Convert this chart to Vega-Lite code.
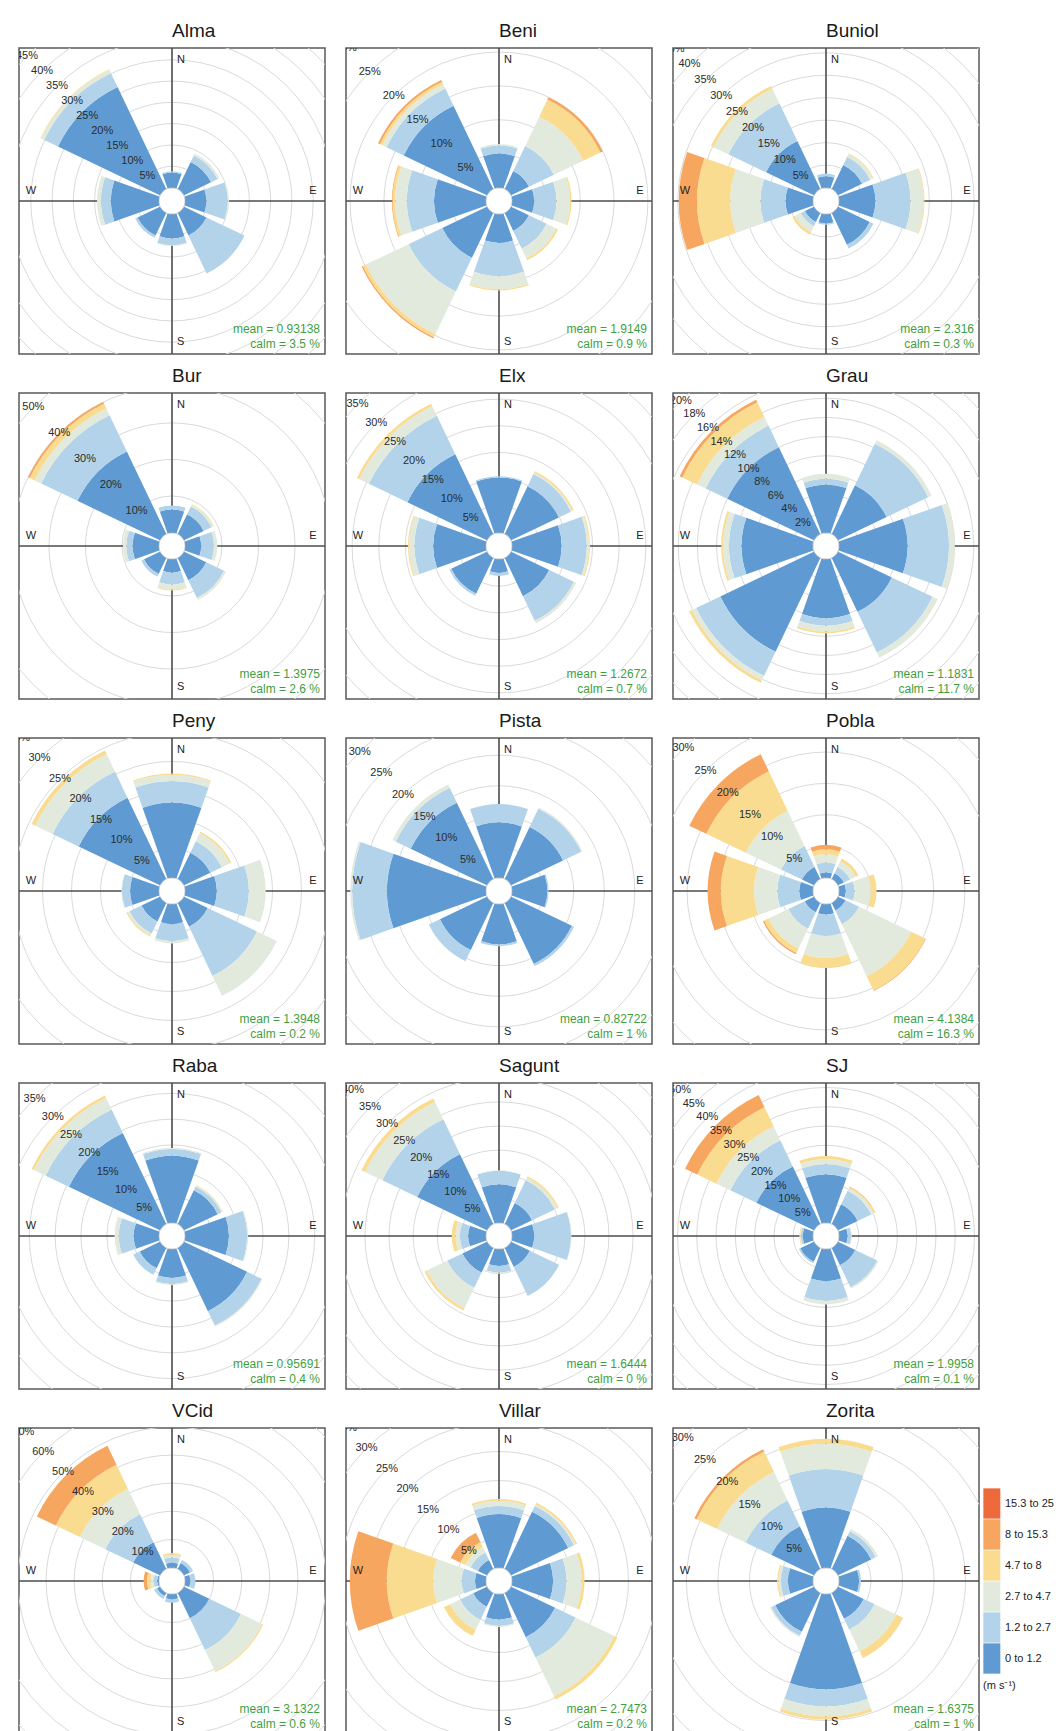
{
  "$schema": "https://vega.github.io/schema/vega-lite/v6.json",
  "background": "white",
  "padding": {"left": 18, "top": 21, "right": 0, "bottom": 0},
  "datasets": {
    "bins": [
      {"k": 0, "b": "0 to 1.2"}, {"k": 1, "b": "1.2 to 2.7"}, {"k": 2, "b": "2.7 to 4.7"},
      {"k": 3, "b": "4.7 to 8"}, {"k": 4, "b": "8 to 15.3"}, {"k": 5, "b": "15.3 to 25"}
    ]
  },
  "data": {"values": [
    {"s":"Alma","d":0,"k":0,"f":3.5},{"s":"Alma","d":0,"k":1,"f":0.3},
    {"s":"Alma","d":45,"k":0,"f":7},{"s":"Alma","d":45,"k":1,"f":1.7},{"s":"Alma","d":45,"k":2,"f":0.5},
    {"s":"Alma","d":90,"k":0,"f":4.9},{"s":"Alma","d":90,"k":1,"f":5},{"s":"Alma","d":90,"k":2,"f":0.3},
    {"s":"Alma","d":135,"k":0,"f":5.8},{"s":"Alma","d":135,"k":1,"f":9.9},
    {"s":"Alma","d":180,"k":0,"f":5.6},{"s":"Alma","d":180,"k":1,"f":1.6},{"s":"Alma","d":180,"k":2,"f":0.2},
    {"s":"Alma","d":225,"k":0,"f":5.8},{"s":"Alma","d":225,"k":1,"f":0.6},
    {"s":"Alma","d":270,"k":0,"f":11.2},{"s":"Alma","d":270,"k":1,"f":2.3},{"s":"Alma","d":270,"k":2,"f":0.9},
    {"s":"Alma","d":315,"k":0,"f":26.5},{"s":"Alma","d":315,"k":1,"f":3.6},{"s":"Alma","d":315,"k":2,"f":0.8},{"s":"Alma","d":315,"k":3,"f":0.2},

    {"s":"Beni","d":0,"k":0,"f":5},{"s":"Beni","d":0,"k":1,"f":1.2},{"s":"Beni","d":0,"k":2,"f":0.2},
    {"s":"Beni","d":45,"k":0,"f":2.9},{"s":"Beni","d":45,"k":1,"f":4.1},{"s":"Beni","d":45,"k":2,"f":4.8},{"s":"Beni","d":45,"k":3,"f":2.8},{"s":"Beni","d":45,"k":4,"f":0.4},
    {"s":"Beni","d":90,"k":0,"f":3.2},{"s":"Beni","d":90,"k":1,"f":3.3},{"s":"Beni","d":90,"k":2,"f":2},{"s":"Beni","d":90,"k":3,"f":0.2},
    {"s":"Beni","d":135,"k":0,"f":2.9},{"s":"Beni","d":135,"k":1,"f":2.9},{"s":"Beni","d":135,"k":2,"f":1.6},{"s":"Beni","d":135,"k":3,"f":0.3},
    {"s":"Beni","d":180,"k":0,"f":4.2},{"s":"Beni","d":180,"k":1,"f":4.9},{"s":"Beni","d":180,"k":2,"f":1.9},{"s":"Beni","d":180,"k":3,"f":0.2},
    {"s":"Beni","d":225,"k":0,"f":7.3},{"s":"Beni","d":225,"k":1,"f":5.5},{"s":"Beni","d":225,"k":2,"f":7},{"s":"Beni","d":225,"k":3,"f":0.5},{"s":"Beni","d":225,"k":4,"f":0.2},
    {"s":"Beni","d":270,"k":0,"f":7.6},{"s":"Beni","d":270,"k":1,"f":4},{"s":"Beni","d":270,"k":2,"f":1.7},{"s":"Beni","d":270,"k":3,"f":0.4},{"s":"Beni","d":270,"k":4,"f":0.1},
    {"s":"Beni","d":315,"k":0,"f":13.6},{"s":"Beni","d":315,"k":1,"f":2.8},{"s":"Beni","d":315,"k":2,"f":0.7},{"s":"Beni","d":315,"k":3,"f":0.4},{"s":"Beni","d":315,"k":4,"f":0.3},

    {"s":"Buniol","d":0,"k":0,"f":2.5},{"s":"Buniol","d":0,"k":1,"f":0.6},
    {"s":"Buniol","d":45,"k":0,"f":5.9},{"s":"Buniol","d":45,"k":1,"f":2},{"s":"Buniol","d":45,"k":2,"f":0.7},{"s":"Buniol","d":45,"k":3,"f":0.2},
    {"s":"Buniol","d":90,"k":0,"f":8},{"s":"Buniol","d":90,"k":1,"f":7.8},{"s":"Buniol","d":90,"k":2,"f":2.9},{"s":"Buniol","d":90,"k":3,"f":0.2},
    {"s":"Buniol","d":135,"k":0,"f":7.8},{"s":"Buniol","d":135,"k":1,"f":0.9},
    {"s":"Buniol","d":180,"k":0,"f":2},{"s":"Buniol","d":180,"k":1,"f":0.3},
    {"s":"Buniol","d":225,"k":0,"f":2.2},{"s":"Buniol","d":225,"k":1,"f":1},{"s":"Buniol","d":225,"k":2,"f":1.5},{"s":"Buniol","d":225,"k":3,"f":0.6},
    {"s":"Buniol","d":270,"k":0,"f":6},{"s":"Buniol","d":270,"k":1,"f":5.6},{"s":"Buniol","d":270,"k":2,"f":6.7},{"s":"Buniol","d":270,"k":3,"f":7.4},{"s":"Buniol","d":270,"k":4,"f":4.1},
    {"s":"Buniol","d":315,"k":0,"f":11.8},{"s":"Buniol","d":315,"k":1,"f":9.3},{"s":"Buniol","d":315,"k":2,"f":3.6},{"s":"Buniol","d":315,"k":3,"f":0.7},

    {"s":"Bur","d":0,"k":0,"f":6.3},{"s":"Bur","d":0,"k":1,"f":1.1},
    {"s":"Bur","d":45,"k":0,"f":5.9},{"s":"Bur","d":45,"k":1,"f":2.4},{"s":"Bur","d":45,"k":2,"f":0.5},{"s":"Bur","d":45,"k":3,"f":0.2},
    {"s":"Bur","d":90,"k":0,"f":4.3},{"s":"Bur","d":90,"k":1,"f":3.5},{"s":"Bur","d":90,"k":2,"f":0.9},
    {"s":"Bur","d":135,"k":0,"f":6.7},{"s":"Bur","d":135,"k":1,"f":5.4},{"s":"Bur","d":135,"k":2,"f":0.6},
    {"s":"Bur","d":180,"k":0,"f":3.6},{"s":"Bur","d":180,"k":1,"f":3.2},{"s":"Bur","d":180,"k":2,"f":1.4},{"s":"Bur","d":180,"k":3,"f":0.3},
    {"s":"Bur","d":225,"k":0,"f":4.8},{"s":"Bur","d":225,"k":1,"f":0.8},
    {"s":"Bur","d":270,"k":0,"f":7.1},{"s":"Bur","d":270,"k":1,"f":1.7},{"s":"Bur","d":270,"k":2,"f":0.9},
    {"s":"Bur","d":315,"k":0,"f":25},{"s":"Bur","d":315,"k":1,"f":11},{"s":"Bur","d":315,"k":2,"f":2},{"s":"Bur","d":315,"k":3,"f":1.5},{"s":"Bur","d":315,"k":4,"f":0.5},

    {"s":"Elx","d":0,"k":0,"f":10.3},{"s":"Elx","d":0,"k":1,"f":0.2},
    {"s":"Elx","d":45,"k":0,"f":9.9},{"s":"Elx","d":45,"k":1,"f":2.5},{"s":"Elx","d":45,"k":2,"f":0.3},{"s":"Elx","d":45,"k":3,"f":0.3},
    {"s":"Elx","d":90,"k":0,"f":9.2},{"s":"Elx","d":90,"k":1,"f":4.7},{"s":"Elx","d":90,"k":2,"f":0.4},{"s":"Elx","d":90,"k":3,"f":0.2},
    {"s":"Elx","d":135,"k":0,"f":7.9},{"s":"Elx","d":135,"k":1,"f":5.1},{"s":"Elx","d":135,"k":2,"f":0.5},
    {"s":"Elx","d":180,"k":0,"f":2.5},{"s":"Elx","d":180,"k":1,"f":0.6},
    {"s":"Elx","d":225,"k":0,"f":7.4},{"s":"Elx","d":225,"k":1,"f":0.4},
    {"s":"Elx","d":270,"k":0,"f":9.8},{"s":"Elx","d":270,"k":1,"f":3.5},{"s":"Elx","d":270,"k":2,"f":1},{"s":"Elx","d":270,"k":3,"f":0.2},
    {"s":"Elx","d":315,"k":0,"f":16.5},{"s":"Elx","d":315,"k":1,"f":8},{"s":"Elx","d":315,"k":2,"f":2},{"s":"Elx","d":315,"k":3,"f":0.5},

    {"s":"Grau","d":0,"k":0,"f":5},{"s":"Grau","d":0,"k":1,"f":0.6},{"s":"Grau","d":0,"k":2,"f":0.5},
    {"s":"Grau","d":45,"k":0,"f":5.6},{"s":"Grau","d":45,"k":1,"f":4.8},{"s":"Grau","d":45,"k":2,"f":0.4},
    {"s":"Grau","d":90,"k":0,"f":7.1},{"s":"Grau","d":90,"k":1,"f":4.3},{"s":"Grau","d":90,"k":2,"f":0.6},
    {"s":"Grau","d":135,"k":0,"f":6.2},{"s":"Grau","d":135,"k":1,"f":4.7},{"s":"Grau","d":135,"k":2,"f":0.6},
    {"s":"Grau","d":180,"k":0,"f":6.1},{"s":"Grau","d":180,"k":1,"f":0.8},{"s":"Grau","d":180,"k":2,"f":0.6},{"s":"Grau","d":180,"k":3,"f":0.2},
    {"s":"Grau","d":225,"k":0,"f":10.8},{"s":"Grau","d":225,"k":1,"f":2.8},{"s":"Grau","d":225,"k":2,"f":0.5},{"s":"Grau","d":225,"k":3,"f":0.3},
    {"s":"Grau","d":270,"k":0,"f":7.4},{"s":"Grau","d":270,"k":1,"f":1.3},{"s":"Grau","d":270,"k":2,"f":0.6},{"s":"Grau","d":270,"k":3,"f":0.2},
    {"s":"Grau","d":315,"k":0,"f":10},{"s":"Grau","d":315,"k":1,"f":2.5},{"s":"Grau","d":315,"k":2,"f":1},{"s":"Grau","d":315,"k":3,"f":1.7},{"s":"Grau","d":315,"k":4,"f":0.3},

    {"s":"Peny","d":0,"k":0,"f":12.9},{"s":"Peny","d":0,"k":1,"f":3.7},{"s":"Peny","d":0,"k":2,"f":1.1},{"s":"Peny","d":0,"k":3,"f":0.2},
    {"s":"Peny","d":45,"k":0,"f":5},{"s":"Peny","d":45,"k":1,"f":2.2},{"s":"Peny","d":45,"k":2,"f":1.5},{"s":"Peny","d":45,"k":3,"f":0.3},
    {"s":"Peny","d":90,"k":0,"f":5.4},{"s":"Peny","d":90,"k":1,"f":5.5},{"s":"Peny","d":90,"k":2,"f":2.9},
    {"s":"Peny","d":135,"k":0,"f":4.5},{"s":"Peny","d":135,"k":1,"f":9.4},{"s":"Peny","d":135,"k":2,"f":3.8},
    {"s":"Peny","d":180,"k":0,"f":3.4},{"s":"Peny","d":180,"k":1,"f":2.9},{"s":"Peny","d":180,"k":2,"f":0.4},
    {"s":"Peny","d":225,"k":0,"f":3.5},{"s":"Peny","d":225,"k":1,"f":2.3},{"s":"Peny","d":225,"k":2,"f":0.4},{"s":"Peny","d":225,"k":3,"f":0.2},
    {"s":"Peny","d":270,"k":0,"f":4.9},{"s":"Peny","d":270,"k":1,"f":1.4},{"s":"Peny","d":270,"k":2,"f":0.1},
    {"s":"Peny","d":315,"k":0,"f":15.5},{"s":"Peny","d":315,"k":1,"f":5},{"s":"Peny","d":315,"k":2,"f":3.3},{"s":"Peny","d":315,"k":3,"f":0.7},

    {"s":"Pista","d":0,"k":0,"f":9},{"s":"Pista","d":0,"k":1,"f":3},
    {"s":"Pista","d":45,"k":0,"f":9.4},{"s":"Pista","d":45,"k":1,"f":3.3},{"s":"Pista","d":45,"k":2,"f":0.2},
    {"s":"Pista","d":90,"k":0,"f":5.7},{"s":"Pista","d":90,"k":1,"f":0.2},
    {"s":"Pista","d":135,"k":0,"f":11},{"s":"Pista","d":135,"k":1,"f":0.4},
    {"s":"Pista","d":180,"k":0,"f":6.5},{"s":"Pista","d":180,"k":1,"f":0.3},
    {"s":"Pista","d":225,"k":0,"f":8.5},{"s":"Pista","d":225,"k":1,"f":2},
    {"s":"Pista","d":270,"k":0,"f":16.1},{"s":"Pista","d":270,"k":1,"f":5.7},{"s":"Pista","d":270,"k":2,"f":0.3},
    {"s":"Pista","d":315,"k":0,"f":13.8},{"s":"Pista","d":315,"k":1,"f":2.7},{"s":"Pista","d":315,"k":2,"f":0.6},

    {"s":"Pobla","d":0,"k":0,"f":0.8},{"s":"Pobla","d":0,"k":1,"f":1.6},{"s":"Pobla","d":0,"k":2,"f":1.3},{"s":"Pobla","d":0,"k":3,"f":0.8},{"s":"Pobla","d":0,"k":4,"f":0.7},
    {"s":"Pobla","d":45,"k":0,"f":1},{"s":"Pobla","d":45,"k":1,"f":1.1},{"s":"Pobla","d":45,"k":2,"f":1},{"s":"Pobla","d":45,"k":3,"f":0.5},
    {"s":"Pobla","d":90,"k":0,"f":1},{"s":"Pobla","d":90,"k":1,"f":1.4},{"s":"Pobla","d":90,"k":2,"f":2.6},{"s":"Pobla","d":90,"k":3,"f":0.9},
    {"s":"Pobla","d":135,"k":0,"f":1.3},{"s":"Pobla","d":135,"k":1,"f":2.4},{"s":"Pobla","d":135,"k":2,"f":9.2},{"s":"Pobla","d":135,"k":3,"f":2.5},{"s":"Pobla","d":135,"k":4,"f":0.1},
    {"s":"Pobla","d":180,"k":0,"f":1.6},{"s":"Pobla","d":180,"k":1,"f":3.4},{"s":"Pobla","d":180,"k":2,"f":3.5},{"s":"Pobla","d":180,"k":3,"f":1.6},
    {"s":"Pobla","d":225,"k":0,"f":1.6},{"s":"Pobla","d":225,"k":1,"f":2.9},{"s":"Pobla","d":225,"k":2,"f":3.5},{"s":"Pobla","d":225,"k":3,"f":0.8},{"s":"Pobla","d":225,"k":4,"f":0.2},
    {"s":"Pobla","d":270,"k":0,"f":2.1},{"s":"Pobla","d":270,"k":1,"f":3.5},{"s":"Pobla","d":270,"k":2,"f":3.7},{"s":"Pobla","d":270,"k":3,"f":5.3},{"s":"Pobla","d":270,"k":4,"f":2.1},
    {"s":"Pobla","d":315,"k":0,"f":2.1},{"s":"Pobla","d":315,"k":1,"f":3.7},{"s":"Pobla","d":315,"k":2,"f":6.2},{"s":"Pobla","d":315,"k":3,"f":7},{"s":"Pobla","d":315,"k":4,"f":3},

    {"s":"Raba","d":0,"k":0,"f":12.9},{"s":"Raba","d":0,"k":1,"f":1.3},{"s":"Raba","d":0,"k":2,"f":0.2},
    {"s":"Raba","d":45,"k":0,"f":7.2},{"s":"Raba","d":45,"k":1,"f":0.8},{"s":"Raba","d":45,"k":2,"f":0.2},{"s":"Raba","d":45,"k":3,"f":0.1},
    {"s":"Raba","d":90,"k":0,"f":8.4},{"s":"Raba","d":90,"k":1,"f":3.5},{"s":"Raba","d":90,"k":2,"f":0.2},
    {"s":"Raba","d":135,"k":0,"f":13.5},{"s":"Raba","d":135,"k":1,"f":3.1},{"s":"Raba","d":135,"k":2,"f":0.2},
    {"s":"Raba","d":180,"k":0,"f":5.5},{"s":"Raba","d":180,"k":1,"f":1.2},{"s":"Raba","d":180,"k":2,"f":0.2},
    {"s":"Raba","d":225,"k":0,"f":4.3},{"s":"Raba","d":225,"k":1,"f":1.4},
    {"s":"Raba","d":270,"k":0,"f":4.8},{"s":"Raba","d":270,"k":1,"f":2.9},{"s":"Raba","d":270,"k":2,"f":0.8},
    {"s":"Raba","d":315,"k":0,"f":19.5},{"s":"Raba","d":315,"k":1,"f":5},{"s":"Raba","d":315,"k":2,"f":2.5},{"s":"Raba","d":315,"k":3,"f":0.5},

    {"s":"Sagunt","d":0,"k":0,"f":7.9},{"s":"Sagunt","d":0,"k":1,"f":2.8},{"s":"Sagunt","d":0,"k":2,"f":0.1},
    {"s":"Sagunt","d":45,"k":0,"f":4.8},{"s":"Sagunt","d":45,"k":1,"f":5.2},{"s":"Sagunt","d":45,"k":2,"f":0.6},{"s":"Sagunt","d":45,"k":3,"f":0.3},
    {"s":"Sagunt","d":90,"k":0,"f":4.5},{"s":"Sagunt","d":90,"k":1,"f":7.6},{"s":"Sagunt","d":90,"k":2,"f":0.1},
    {"s":"Sagunt","d":135,"k":0,"f":4.3},{"s":"Sagunt","d":135,"k":1,"f":6.7},
    {"s":"Sagunt","d":180,"k":0,"f":3.4},{"s":"Sagunt","d":180,"k":1,"f":1.4},{"s":"Sagunt","d":180,"k":2,"f":0.2},
    {"s":"Sagunt","d":225,"k":0,"f":5.6},{"s":"Sagunt","d":225,"k":1,"f":3.5},{"s":"Sagunt","d":225,"k":2,"f":4.7},{"s":"Sagunt","d":225,"k":3,"f":0.5},
    {"s":"Sagunt","d":270,"k":0,"f":3.6},{"s":"Sagunt","d":270,"k":1,"f":1.7},{"s":"Sagunt","d":270,"k":2,"f":0.9},{"s":"Sagunt","d":270,"k":3,"f":0.8},
    {"s":"Sagunt","d":315,"k":0,"f":16},{"s":"Sagunt","d":315,"k":1,"f":8},{"s":"Sagunt","d":315,"k":2,"f":4},{"s":"Sagunt","d":315,"k":3,"f":0.8},

    {"s":"SJ","d":0,"k":0,"f":12.5},{"s":"SJ","d":0,"k":1,"f":2.6},{"s":"SJ","d":0,"k":2,"f":1.3},{"s":"SJ","d":0,"k":3,"f":0.8},
    {"s":"SJ","d":45,"k":0,"f":5.6},{"s":"SJ","d":45,"k":1,"f":3.9},{"s":"SJ","d":45,"k":2,"f":0.7},{"s":"SJ","d":45,"k":3,"f":0.4},{"s":"SJ","d":45,"k":4,"f":0.1},
    {"s":"SJ","d":90,"k":0,"f":2.1},{"s":"SJ","d":90,"k":1,"f":0.9},{"s":"SJ","d":90,"k":2,"f":0.2},
    {"s":"SJ","d":135,"k":0,"f":4.9},{"s":"SJ","d":135,"k":1,"f":6.3},{"s":"SJ","d":135,"k":2,"f":0.4},
    {"s":"SJ","d":180,"k":0,"f":8.2},{"s":"SJ","d":180,"k":1,"f":5.1},{"s":"SJ","d":180,"k":2,"f":0.9},
    {"s":"SJ","d":225,"k":0,"f":3.9},{"s":"SJ","d":225,"k":1,"f":0.4},
    {"s":"SJ","d":270,"k":0,"f":2.5},{"s":"SJ","d":270,"k":1,"f":0.5},{"s":"SJ","d":270,"k":2,"f":0.2},{"s":"SJ","d":270,"k":3,"f":0.2},
    {"s":"SJ","d":315,"k":0,"f":16.5},{"s":"SJ","d":315,"k":1,"f":7.5},{"s":"SJ","d":315,"k":2,"f":4},{"s":"SJ","d":315,"k":3,"f":5.5},{"s":"SJ","d":315,"k":4,"f":3.5},

    {"s":"VCid","d":0,"k":0,"f":1.7},{"s":"VCid","d":0,"k":1,"f":1.8},{"s":"VCid","d":0,"k":2,"f":1},{"s":"VCid","d":0,"k":3,"f":0.6},
    {"s":"VCid","d":45,"k":0,"f":2.3},{"s":"VCid","d":45,"k":1,"f":1.2},
    {"s":"VCid","d":90,"k":0,"f":1.7},{"s":"VCid","d":90,"k":1,"f":1.8},
    {"s":"VCid","d":135,"k":0,"f":9.9},{"s":"VCid","d":135,"k":1,"f":12.5},{"s":"VCid","d":135,"k":2,"f":8.3},{"s":"VCid","d":135,"k":3,"f":0.5},
    {"s":"VCid","d":180,"k":0,"f":1.7},{"s":"VCid","d":180,"k":1,"f":1.2},
    {"s":"VCid","d":225,"k":0,"f":1.1},{"s":"VCid","d":225,"k":1,"f":1.2},
    {"s":"VCid","d":270,"k":0,"f":0.5},{"s":"VCid","d":270,"k":1,"f":1.2},{"s":"VCid","d":270,"k":2,"f":1.2},{"s":"VCid","d":270,"k":3,"f":1.2},{"s":"VCid","d":270,"k":4,"f":1.2},
    {"s":"VCid","d":315,"k":0,"f":10.5},{"s":"VCid","d":315,"k":1,"f":11},{"s":"VCid","d":315,"k":2,"f":10},{"s":"VCid","d":315,"k":3,"f":9.5},{"s":"VCid","d":315,"k":4,"f":7.5},

    {"s":"Villar","d":0,"k":0,"f":9.2},{"s":"Villar","d":0,"k":1,"f":1.4},{"s":"Villar","d":0,"k":2,"f":0.9},{"s":"Villar","d":0,"k":3,"f":0.3},
    {"s":"Villar","d":45,"k":0,"f":10.9},{"s":"Villar","d":45,"k":1,"f":1.1},{"s":"Villar","d":45,"k":2,"f":0.3},{"s":"Villar","d":45,"k":3,"f":0.3},
    {"s":"Villar","d":90,"k":0,"f":7},{"s":"Villar","d":90,"k":1,"f":2.3},{"s":"Villar","d":90,"k":2,"f":2.6},{"s":"Villar","d":90,"k":3,"f":0.5},
    {"s":"Villar","d":135,"k":0,"f":8.4},{"s":"Villar","d":135,"k":1,"f":3.9},{"s":"Villar","d":135,"k":2,"f":7.4},{"s":"Villar","d":135,"k":3,"f":0.6},
    {"s":"Villar","d":180,"k":0,"f":4.3},{"s":"Villar","d":180,"k":1,"f":1.1},{"s":"Villar","d":180,"k":2,"f":0.2},
    {"s":"Villar","d":225,"k":0,"f":2.6},{"s":"Villar","d":225,"k":1,"f":2.5},{"s":"Villar","d":225,"k":2,"f":1.9},{"s":"Villar","d":225,"k":3,"f":1.2},
    {"s":"Villar","d":270,"k":0,"f":1.8},{"s":"Villar","d":270,"k":1,"f":2.3},{"s":"Villar","d":270,"k":2,"f":4.9},{"s":"Villar","d":270,"k":3,"f":8},{"s":"Villar","d":270,"k":4,"f":6.4},
    {"s":"Villar","d":315,"k":0,"f":1.7},{"s":"Villar","d":315,"k":1,"f":1.4},{"s":"Villar","d":315,"k":2,"f":1},{"s":"Villar","d":315,"k":3,"f":1},{"s":"Villar","d":315,"k":4,"f":1.8},

    {"s":"Zorita","d":0,"k":0,"f":9.5},{"s":"Zorita","d":0,"k":1,"f":6.1},{"s":"Zorita","d":0,"k":2,"f":4},{"s":"Zorita","d":0,"k":3,"f":0.8},
    {"s":"Zorita","d":45,"k":0,"f":5.8},{"s":"Zorita","d":45,"k":1,"f":0.8},{"s":"Zorita","d":45,"k":2,"f":0.4},
    {"s":"Zorita","d":90,"k":0,"f":3.1},{"s":"Zorita","d":90,"k":1,"f":0.3},
    {"s":"Zorita","d":135,"k":0,"f":4.5},{"s":"Zorita","d":135,"k":1,"f":1.9},{"s":"Zorita","d":135,"k":2,"f":3.8},{"s":"Zorita","d":135,"k":3,"f":1.2},
    {"s":"Zorita","d":180,"k":0,"f":15},{"s":"Zorita","d":180,"k":1,"f":2.7},{"s":"Zorita","d":180,"k":2,"f":1.6},{"s":"Zorita","d":180,"k":3,"f":0.5},
    {"s":"Zorita","d":225,"k":0,"f":6.8},{"s":"Zorita","d":225,"k":1,"f":0.7},{"s":"Zorita","d":225,"k":2,"f":0.2},
    {"s":"Zorita","d":270,"k":0,"f":3.9},{"s":"Zorita","d":270,"k":1,"f":1.1},{"s":"Zorita","d":270,"k":2,"f":0.4},{"s":"Zorita","d":270,"k":3,"f":0.2},
    {"s":"Zorita","d":315,"k":0,"f":7.5},{"s":"Zorita","d":315,"k":1,"f":4.5},{"s":"Zorita","d":315,"k":2,"f":5},{"s":"Zorita","d":315,"k":3,"f":3.6},{"s":"Zorita","d":315,"k":4,"f":0.4},

    {"s":"Alma","g":5},{"s":"Alma","g":10},{"s":"Alma","g":15},{"s":"Alma","g":20},{"s":"Alma","g":25},{"s":"Alma","g":30},{"s":"Alma","g":35},{"s":"Alma","g":40},{"s":"Alma","g":45},{"s":"Alma","g":50},
    {"s":"Beni","g":5},{"s":"Beni","g":10},{"s":"Beni","g":15},{"s":"Beni","g":20},{"s":"Beni","g":25},{"s":"Beni","g":30},
    {"s":"Buniol","g":5},{"s":"Buniol","g":10},{"s":"Buniol","g":15},{"s":"Buniol","g":20},{"s":"Buniol","g":25},{"s":"Buniol","g":30},{"s":"Buniol","g":35},{"s":"Buniol","g":40},{"s":"Buniol","g":45},{"s":"Buniol","g":50},
    {"s":"Bur","g":10},{"s":"Bur","g":20},{"s":"Bur","g":30},{"s":"Bur","g":40},{"s":"Bur","g":50},{"s":"Bur","g":60},
    {"s":"Elx","g":5},{"s":"Elx","g":10},{"s":"Elx","g":15},{"s":"Elx","g":20},{"s":"Elx","g":25},{"s":"Elx","g":30},{"s":"Elx","g":35},{"s":"Elx","g":40},
    {"s":"Grau","g":2},{"s":"Grau","g":4},{"s":"Grau","g":6},{"s":"Grau","g":8},{"s":"Grau","g":10},{"s":"Grau","g":12},{"s":"Grau","g":14},{"s":"Grau","g":16},{"s":"Grau","g":18},{"s":"Grau","g":20},{"s":"Grau","g":22},
    {"s":"Peny","g":5},{"s":"Peny","g":10},{"s":"Peny","g":15},{"s":"Peny","g":20},{"s":"Peny","g":25},{"s":"Peny","g":30},{"s":"Peny","g":35},
    {"s":"Pista","g":5},{"s":"Pista","g":10},{"s":"Pista","g":15},{"s":"Pista","g":20},{"s":"Pista","g":25},{"s":"Pista","g":30},{"s":"Pista","g":35},
    {"s":"Pobla","g":5},{"s":"Pobla","g":10},{"s":"Pobla","g":15},{"s":"Pobla","g":20},{"s":"Pobla","g":25},{"s":"Pobla","g":30},{"s":"Pobla","g":35},
    {"s":"Raba","g":5},{"s":"Raba","g":10},{"s":"Raba","g":15},{"s":"Raba","g":20},{"s":"Raba","g":25},{"s":"Raba","g":30},{"s":"Raba","g":35},{"s":"Raba","g":40},
    {"s":"Sagunt","g":5},{"s":"Sagunt","g":10},{"s":"Sagunt","g":15},{"s":"Sagunt","g":20},{"s":"Sagunt","g":25},{"s":"Sagunt","g":30},{"s":"Sagunt","g":35},{"s":"Sagunt","g":40},{"s":"Sagunt","g":45},
    {"s":"SJ","g":5},{"s":"SJ","g":10},{"s":"SJ","g":15},{"s":"SJ","g":20},{"s":"SJ","g":25},{"s":"SJ","g":30},{"s":"SJ","g":35},{"s":"SJ","g":40},{"s":"SJ","g":45},{"s":"SJ","g":50},{"s":"SJ","g":55},
    {"s":"VCid","g":10},{"s":"VCid","g":20},{"s":"VCid","g":30},{"s":"VCid","g":40},{"s":"VCid","g":50},{"s":"VCid","g":60},{"s":"VCid","g":70},{"s":"VCid","g":80},
    {"s":"Villar","g":5},{"s":"Villar","g":10},{"s":"Villar","g":15},{"s":"Villar","g":20},{"s":"Villar","g":25},{"s":"Villar","g":30},{"s":"Villar","g":35},
    {"s":"Zorita","g":5},{"s":"Zorita","g":10},{"s":"Zorita","g":15},{"s":"Zorita","g":20},{"s":"Zorita","g":25},{"s":"Zorita","g":30},{"s":"Zorita","g":35},

    {"s":"Alma","d":0,"e":57.9,"n":"N"},{"s":"Alma","d":90,"e":57.9,"n":"E"},{"s":"Alma","d":180,"e":57.9,"n":"S"},{"s":"Alma","d":270,"e":57.9,"n":"W"},
    {"s":"Beni","d":0,"e":36.4,"n":"N"},{"s":"Beni","d":90,"e":36.4,"n":"E"},{"s":"Beni","d":180,"e":36.4,"n":"S"},{"s":"Beni","d":270,"e":36.4,"n":"W"},
    {"s":"Buniol","d":0,"e":54.9,"n":"N"},{"s":"Buniol","d":90,"e":54.9,"n":"E"},{"s":"Buniol","d":180,"e":54.9,"n":"S"},{"s":"Buniol","d":270,"e":54.9,"n":"W"},
    {"s":"Bur","d":0,"e":67.5,"n":"N"},{"s":"Bur","d":90,"e":67.5,"n":"E"},{"s":"Bur","d":180,"e":67.5,"n":"S"},{"s":"Bur","d":270,"e":67.5,"n":"W"},
    {"s":"Elx","d":0,"e":46.2,"n":"N"},{"s":"Elx","d":90,"e":46.2,"n":"E"},{"s":"Elx","d":180,"e":46.2,"n":"S"},{"s":"Elx","d":270,"e":46.2,"n":"W"},
    {"s":"Grau","d":0,"e":25.7,"n":"N"},{"s":"Grau","d":90,"e":25.7,"n":"E"},{"s":"Grau","d":180,"e":25.7,"n":"S"},{"s":"Grau","d":270,"e":25.7,"n":"W"},
    {"s":"Peny","d":0,"e":42.5,"n":"N"},{"s":"Peny","d":90,"e":42.5,"n":"E"},{"s":"Peny","d":180,"e":42.5,"n":"S"},{"s":"Peny","d":270,"e":42.5,"n":"W"},
    {"s":"Pista","d":0,"e":40.3,"n":"N"},{"s":"Pista","d":90,"e":40.3,"n":"E"},{"s":"Pista","d":180,"e":40.3,"n":"S"},{"s":"Pista","d":270,"e":40.3,"n":"W"},
    {"s":"Pobla","d":0,"e":39.3,"n":"N"},{"s":"Pobla","d":90,"e":39.3,"n":"E"},{"s":"Pobla","d":180,"e":39.3,"n":"S"},{"s":"Pobla","d":270,"e":39.3,"n":"W"},
    {"s":"Raba","d":0,"e":47.7,"n":"N"},{"s":"Raba","d":90,"e":47.7,"n":"E"},{"s":"Raba","d":180,"e":47.7,"n":"S"},{"s":"Raba","d":270,"e":47.7,"n":"W"},
    {"s":"Sagunt","d":0,"e":51.1,"n":"N"},{"s":"Sagunt","d":90,"e":51.1,"n":"E"},{"s":"Sagunt","d":180,"e":51.1,"n":"S"},{"s":"Sagunt","d":270,"e":51.1,"n":"W"},
    {"s":"SJ","d":0,"e":63.9,"n":"N"},{"s":"SJ","d":90,"e":63.9,"n":"E"},{"s":"SJ","d":180,"e":63.9,"n":"S"},{"s":"SJ","d":270,"e":63.9,"n":"W"},
    {"s":"VCid","d":0,"e":87.7,"n":"N"},{"s":"VCid","d":90,"e":87.7,"n":"E"},{"s":"VCid","d":180,"e":87.7,"n":"S"},{"s":"VCid","d":270,"e":87.7,"n":"W"},
    {"s":"Villar","d":0,"e":42.5,"n":"N"},{"s":"Villar","d":90,"e":42.5,"n":"E"},{"s":"Villar","d":180,"e":42.5,"n":"S"},{"s":"Villar","d":270,"e":42.5,"n":"W"},
    {"s":"Zorita","d":0,"e":39.1,"n":"N"},{"s":"Zorita","d":90,"e":39.1,"n":"E"},{"s":"Zorita","d":180,"e":39.1,"n":"S"},{"s":"Zorita","d":270,"e":39.1,"n":"W"},

    {"s":"Alma","m":"mean = 0.93138\ncalm = 3.5 %"},
    {"s":"Beni","m":"mean = 1.9149\ncalm = 0.9 %"},
    {"s":"Buniol","m":"mean = 2.316\ncalm = 0.3 %"},
    {"s":"Bur","m":"mean = 1.3975\ncalm = 2.6 %"},
    {"s":"Elx","m":"mean = 1.2672\ncalm = 0.7 %"},
    {"s":"Grau","m":"mean = 1.1831\ncalm = 11.7 %"},
    {"s":"Peny","m":"mean = 1.3948\ncalm = 0.2 %"},
    {"s":"Pista","m":"mean = 0.82722\ncalm = 1 %"},
    {"s":"Pobla","m":"mean = 4.1384\ncalm = 16.3 %"},
    {"s":"Raba","m":"mean = 0.95691\ncalm = 0.4 %"},
    {"s":"Sagunt","m":"mean = 1.6444\ncalm = 0 %"},
    {"s":"SJ","m":"mean = 1.9958\ncalm = 0.1 %"},
    {"s":"VCid","m":"mean = 3.1322\ncalm = 0.6 %"},
    {"s":"Villar","m":"mean = 2.7473\ncalm = 0.2 %"},
    {"s":"Zorita","m":"mean = 1.6375\ncalm = 1 %"}
  ]},
  "transform": [
    {"lookup": "k", "from": {"data": {"name": "bins"}, "key": "k", "fields": ["b"]}}
  ],
  "facet": {
    "field": "s",
    "type": "nominal",
    "sort": ["Alma", "Beni", "Buniol", "Bur", "Elx", "Grau", "Peny", "Pista", "Pobla", "Raba", "Sagunt", "SJ", "VCid", "Villar", "Zorita"],
    "header": {
      "title": null,
      "labelExpr": "'\u200b\u2002' + datum.label",
      "labelAnchor": "middle",
      "labelAlign": "left",
      "labelFont": "Liberation Sans",
      "labelFontSize": 19,
      "labelColor": "#1a1a1a",
      "labelPadding": 7
    }
  },
  "columns": 3,
  "spacing": {"row": 11, "column": 19},
  "resolve": {"scale": {"radius": "independent"}},
  "spec": {
    "width": 306,
    "height": 306,
    "view": {"stroke": "#595959", "strokeWidth": 1.5},
    "layer": [
      {
        "transform": [{"filter": "isValid(datum.g)"}],
        "mark": {"type": "arc", "theta": 0, "theta2": 6.2832, "fillOpacity": 0, "stroke": "#dadada", "strokeWidth": 1, "clip": true},
        "encoding": {
          "radius": {"field": "g", "type": "quantitative", "stack": null, "scale": {"type": "linear", "zero": true, "nice": false, "range": [13.5, 260]}}
        }
      },
      {
        "transform": [{"filter": "isValid(datum.e)"}],
        "mark": {"type": "arc", "fillOpacity": 0, "stroke": "#4d4d4d", "strokeWidth": 1.6, "clip": true},
        "encoding": {
          "theta": {"field": "d", "type": "quantitative", "stack": null, "scale": {"domain": [0, 360], "range": [0, 6.283185]}},
          "theta2": {"field": "d"},
          "radius": {"field": "e", "type": "quantitative", "stack": null}
        }
      },
      {
        "transform": [
          {"filter": "isValid(datum.f)"},
          {"stack": "f", "groupby": ["s", "d"], "sort": [{"field": "k", "order": "ascending"}], "as": ["c0", "c1"]}
        ],
        "mark": {"type": "arc", "thetaOffset": -0.34, "theta2Offset": 0.34, "clip": true},
        "encoding": {
          "theta": {"field": "d", "type": "quantitative", "stack": null, "scale": {"domain": [0, 360], "range": [0, 6.283185]}},
          "theta2": {"field": "d"},
          "radius": {"field": "c1", "type": "quantitative", "stack": null},
          "radius2": {"field": "c0"},
          "color": {
            "field": "b",
            "type": "nominal",
            "scale": {
              "domain": ["15.3 to 25", "8 to 15.3", "4.7 to 8", "2.7 to 4.7", "1.2 to 2.7", "0 to 1.2"],
              "range": ["#ee6a3c", "#f6a65e", "#fadc91", "#e2eade", "#b2d3ea", "#5f9bd2"]
            },
            "legend": {
              "title": "(m s⁻¹)",
              "orient": "none",
              "legendX": 964,
              "legendY": 1440,
              "symbolType": "M-1,-1H0.12V1H-1Z",
              "symbolSize": 918,
              "symbolStrokeWidth": 0,
              "symbolOpacity": 1,
              "rowPadding": 0,
              "labelOffset": -9,
              "labelFont": "Liberation Sans",
              "labelFontSize": 11,
              "labelColor": "#222",
              "titleOrient": "bottom",
              "titleFont": "Liberation Sans",
              "titleFontSize": 11,
              "titleFontWeight": "normal",
              "titleColor": "#222",
              "titlePadding": 6,
              "padding": 0
            }
          }
        }
      },
      {
        "transform": [{"filter": "isValid(datum.g)"}, {"calculate": "datum.g + '%'", "as": "gl"}],
        "mark": {"type": "text", "theta": 5.497787, "font": "Liberation Sans", "fontSize": 11, "fill": "#2b2b2b", "clip": true},
        "encoding": {
          "radius": {"field": "g", "type": "quantitative", "stack": null},
          "text": {"field": "gl"}
        }
      },
      {
        "transform": [{"filter": "isValid(datum.e) && (datum.d == 0 || datum.d == 180)"}],
        "mark": {"type": "text", "radius": 141, "align": "left", "baseline": "middle", "dx": 5, "font": "Liberation Sans", "fontSize": 11, "fill": "#222"},
        "encoding": {
          "theta": {"field": "d", "type": "quantitative", "stack": null, "scale": {"domain": [0, 360], "range": [0, 6.283185]}},
          "text": {"field": "n"}
        }
      },
      {
        "transform": [{"filter": "isValid(datum.e) && (datum.d == 90 || datum.d == 270)"}],
        "mark": {"type": "text", "radius": 141, "align": "center", "baseline": "bottom", "dy": -5, "font": "Liberation Sans", "fontSize": 11, "fill": "#222"},
        "encoding": {
          "theta": {"field": "d", "type": "quantitative", "stack": null, "scale": {"domain": [0, 360], "range": [0, 6.283185]}},
          "text": {"field": "n"}
        }
      },
      {
        "transform": [{"filter": "isValid(datum.m)"}],
        "mark": {"type": "text", "x": "width", "y": "height", "align": "right", "baseline": "bottom", "dx": -5, "dy": -18, "lineBreak": "\n", "lineHeight": 14.5, "font": "Liberation Sans", "fontSize": 12, "fill": "#3f9f3f"},
        "encoding": {
          "text": {"field": "m"}
        }
      }
    ]
  },
  "config": {
    "view": {"stroke": "#595959", "strokeWidth": 1.5}
  }
}
